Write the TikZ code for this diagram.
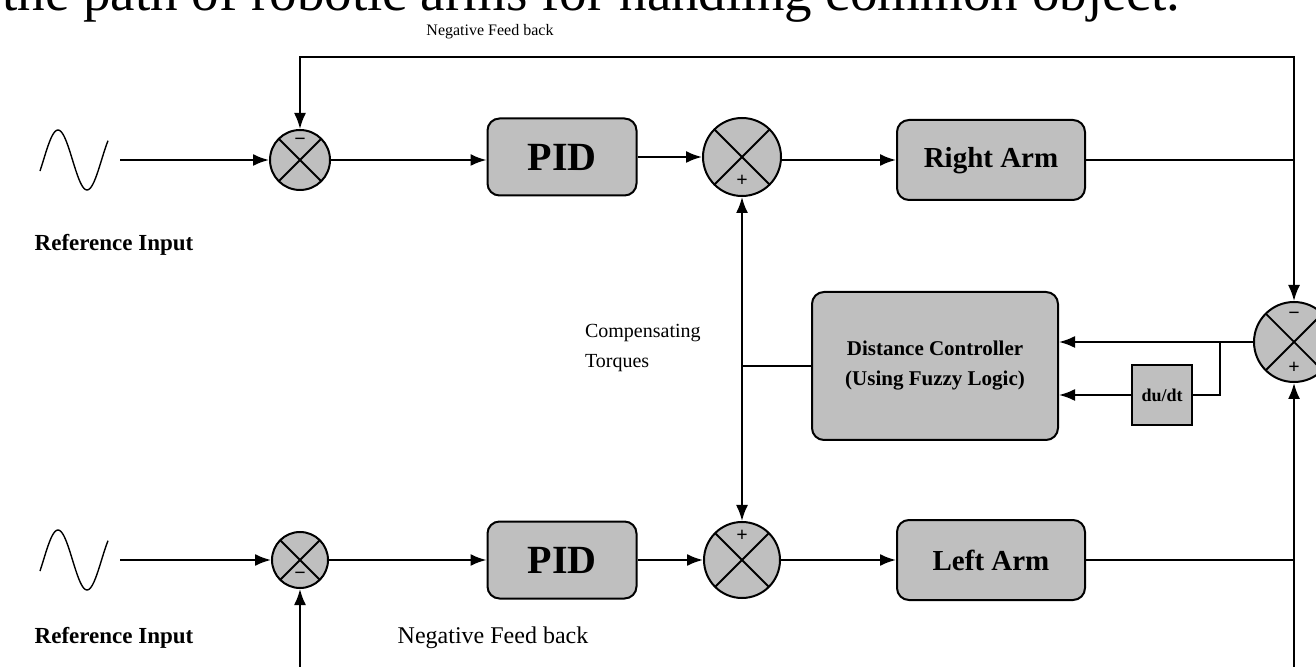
\documentclass[tikz,border=0pt]{standalone}
\usepackage{fontspec}
\setmainfont{Liberation Serif}
\usetikzlibrary{arrows.meta}
\tikzset{every node/.style={font=\rmfamily},line cap=round,line join=round}
\tikzset{
  block/.style={draw,line width=1pt,fill=black!25,rounded corners=6pt,inner sep=2pt},
  sumnode/.style={draw,circle,line width=1pt,fill=black!25,inner sep=0pt,
    path picture={\draw[line width=0.9pt]
      (path picture bounding box.north west) -- (path picture bounding box.south east)
      (path picture bounding box.north east) -- (path picture bounding box.south west);}},
  sgn/.style={font=\fontsize{10}{10}\selectfont\bfseries,inner sep=0pt},
  wire/.style={line width=1pt},
  arr/.style={wire,-{Latex[length=8pt,width=6pt]}}
}

\begin{document}
\begin{tikzpicture}[x=0.5pt,y=-0.5pt]
  \path[use as bounding box] (0,0) rectangle (1316,667);
  % title line, cut by the top of the page
  \node[anchor=base west,inner sep=0pt,font=\fontsize{27.5}{30}\selectfont] (title) at (2,11)
    {the path of robotic arms for handling common object.};
  \node[font=\fontsize{8}{10}\selectfont] (nfbtop) at (490,32) {Negative Feed back};

  % right arm loop
  \draw[line width=0.7pt,domain=40:108,samples=50,smooth] plot (\x,{160-30*sin(6.2*(\x-40)-21.6)});
  \coordinate (in1) at (120,160);
  \node[font=\fontsize{11.5}{13}\selectfont\bfseries] (ref1) at (114,245) {Reference Input};
  \node[sumnode,minimum size=30pt] (sum1) at (300,160) {};
  \node[sgn] (sum1m) at ([yshift=9pt]sum1.center) {−};
  \node[block,minimum width=74.5pt,minimum height=38.5pt,font=\fontsize{20}{24}\selectfont\bfseries] (pid1) at (562,157) {PID};
  \node[sumnode,minimum size=39pt] (sum2) at (742,157) {};
  \node[sgn] (sum2p) at ([yshift=-12pt]sum2.center) {+};
  \node[block,minimum width=94pt,minimum height=40pt,text depth=3pt,font=\fontsize{14.5}{17}\selectfont\bfseries] (rarm) at (991,160) {Right Arm};

  % left arm loop
  \draw[line width=0.7pt,domain=40:108,samples=50,smooth] plot (\x,{560-30*sin(6.2*(\x-40)-21.6)});
  \coordinate (in2) at (120,560);
  \node[font=\fontsize{11.5}{13}\selectfont\bfseries] (ref2) at (114,638) {Reference Input};
  \node[sumnode,minimum size=28pt] (sum3) at (300,560) {};
  \node[sgn] (sum3m) at ([yshift=-8pt]sum3.center) {−};
  \node[block,minimum width=74.5pt,minimum height=38.5pt,font=\fontsize{20}{24}\selectfont\bfseries] (pid2) at (562,560) {PID};
  \node[sumnode,minimum size=38pt] (sum4) at (742,560) {};
  \node[sgn] (sum4p) at ([yshift=12pt]sum4.center) {+};
  \node[block,minimum width=94pt,minimum height=40pt,font=\fontsize{14.5}{17}\selectfont\bfseries] (larm) at (991,560) {Left Arm};
  \node[font=\fontsize{12}{14}\selectfont] (nfbbot) at (493,638) {Negative Feed back};

  % distance controller
  \node[align=left,anchor=west,font=\fontsize{10}{15}\selectfont] (comp) at (578,348) {Compensating\\Torques};
  \node[block,minimum width=123pt,minimum height=74pt,align=center,font=\fontsize{10.5}{15}\selectfont\bfseries] (dc) at (935,366)
    {Distance Controller\\(Using Fuzzy Logic)};
  \node[block,sharp corners,minimum size=30pt,font=\fontsize{9}{9}\selectfont\bfseries] (dudt) at (1162,395) {du/dt};
  \node[sumnode,minimum size=40pt] (sum5) at (1294,342) {};
  \node[sgn] (sum5m) at ([yshift=13pt]sum5.center) {−};
  \node[sgn] (sum5p) at ([yshift=-13pt]sum5.center) {+};

  \coordinate (jR) at (1294,160);
  \coordinate (fbT) at (1294,57);
  \coordinate (jL) at (1294,560);
  \coordinate (fbB) at (1294,667);
  \coordinate (fbL) at (300,667);
  \coordinate (jM) at (742,366);
  \coordinate (jD) at (1220,342);

  % upper path
  \draw[arr] (in1) -- (sum1);
  \draw[arr] (sum1) -- (sum1 -| pid1.west);
  \draw[arr] (pid1) -- (sum2);
  \draw[arr] (sum2.east |- rarm) -- (rarm);
  \draw[wire] (rarm) -- (jR);
  \draw[arr] (jR) -- (fbT) -| (sum1);
  \draw[arr] (jR) -- (sum5);

  % lower path
  \draw[arr] (in2) -- (sum3);
  \draw[arr] (sum3) -- (pid2);
  \draw[arr] (pid2) -- (sum4);
  \draw[arr] (sum4) -- (larm);
  \draw[wire] (larm) -- (jL) -- (fbB);
  \draw[arr] (jL) -- (sum5);
  \draw[arr] (fbL) -- (sum3);

  % compensation
  \draw[arr] (sum5) -- (dc.east |- sum5.west);
  \draw[wire] (jD) |- (dudt);
  \draw[arr] (dudt) -- (dc.east |- dudt);
  \draw[wire] (dc) -- (jM);
  \draw[arr] (jM) -- (sum2);
  \draw[arr] (jM) -- (sum4);
\end{tikzpicture}
\end{document}
